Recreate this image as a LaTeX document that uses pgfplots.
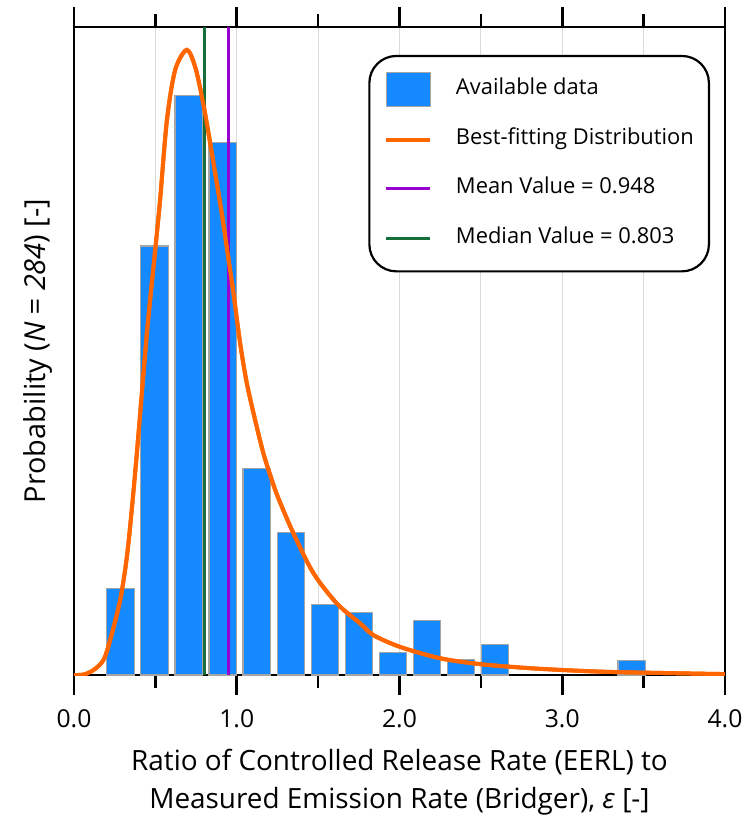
\documentclass[border=0pt]{standalone}
\usepackage{fontspec}
\setmainfont{Open Sans}
\usepackage{pgfplots}
\pgfplotsset{compat=1.18}
\definecolor{BarBlue}{RGB}{21,137,255}
\definecolor{BarEdge}{RGB}{165,165,165}
\definecolor{FitOrange}{RGB}{255,102,0}
\definecolor{MeanPurple}{RGB}{150,0,210}
\definecolor{MedGreen}{RGB}{22,110,60}
\definecolor{GridGray}{RGB}{218,218,218}

\pgfplotsset{
  barlegend/.style={legend image code/.code={\draw[##1, sharp corners] (0bp,-8.5bp) rectangle (22bp,8.5bp);}},
  linelegend/.style={legend image code/.code={\path[draw=none, fill=none] (0bp,-8.5bp) rectangle (22bp,8.5bp); \draw[##1] (0bp,0bp) -- (22bp,0bp);}},
}

% histogram (probability density per bin)
\pgfplotstableread{
x      y
0.286  0.191
0.495  0.947
0.705  1.280
0.914  1.175
1.123  0.455
1.333  0.314
1.542  0.156
1.751  0.138
1.960  0.050
2.170  0.121
2.379  0.034
2.588  0.068
3.426  0.032
}\histdata

% best-fitting distribution
\pgfplotstableread{
x      y
0.000  0.000
0.060  0.001
0.120  0.011
0.181  0.033
0.222  0.077
0.284  0.166
0.325  0.261
0.356  0.369
0.388  0.497
0.448  0.755
0.499  0.938
0.529  1.049
0.571  1.225
0.622  1.336
0.693  1.380
0.744  1.343
0.786  1.277
0.816  1.218
0.847  1.152
0.878  1.085
0.908  1.019
0.939  0.945
0.959  0.894
0.980  0.843
1.021  0.732
1.062  0.644
1.113  0.563
1.164  0.489
1.216  0.430
1.256  0.390
1.348  0.313
1.471  0.225
1.615  0.158
1.758  0.114
1.840  0.088
2.004  0.062
2.249  0.037
2.495  0.024
2.761  0.016
3.001  0.011
3.273  0.007
3.682  0.004
4.000  0.002
}\fitdata

\begin{document}
\begin{tikzpicture}
\begin{axis}[
  name=ax, scale only axis,
  width=325.5bp, height=324bp,
  xmin=0, xmax=4, ymin=0, ymax=1.4305,
  axis line style={line width=1.3bp},
  xtick={0,1,2,3,4}, xticklabels={0.0,1.0,2.0,3.0,4.0},
  minor xtick={0.5,1.5,2.5,3.5},
  ytick=\empty,
  tick align=outside,
  major tick length=10bp, minor tick length=6.5bp,
  every tick/.style={black, line width=1.3bp},
  every minor tick/.style={black, line width=1.3bp},
  grid=both,
  major grid style={draw=GridGray, line width=0.6bp},
  minor grid style={draw=GridGray, line width=0.6bp},
  tick label style={font=\fontsize{12.4}{15}\selectfont},
  xticklabel style={yshift=-4bp},
  xlabel={Ratio of Controlled Release Rate (EERL) to\\Measured Emission Rate (Bridger), \textit{ε} [-]},
  xlabel style={font=\fontsize{14}{19}\selectfont, align=center, inner sep=0pt,
    at={(axis description cs:0.5,0)}, anchor=north, yshift=-37bp},
  ylabel={Probability (\textit{N = 284}) [-]},
  ylabel style={font=\fontsize{14.5}{17}\selectfont, at={(axis description cs:-0.055,0.5)}, anchor=center, rotate=0},
  legend style={at={(0.977,0.957)}, anchor=north east, draw=black, line width=1.1bp,
    rounded corners=13.5bp, inner xsep=7.5bp, inner ysep=8bp, row sep=7.7bp, column sep=11.8bp,
    font=\fontsize{11}{13}\selectfont, nodes={inner sep=0pt, text height=8bp, text depth=3bp}},
  legend cell align=left,
]
\addplot[ybar, bar width=0.168, bar shift=0pt, fill=BarBlue, draw=BarEdge, line width=0.6bp, barlegend]
  table[x=x, y=y] {\histdata};
\addlegendentry{Available data}
\addplot[FitOrange, line width=2bp, smooth, linelegend]
  table[x=x, y=y] {\fitdata};
\addlegendentry{Best-fitting Distribution}
\addplot[MeanPurple, line width=1.5bp, linelegend]
  coordinates {(0.948,0) (0.948,1.4305)};
\addlegendentry{Mean Value = 0.948}
\addplot[MedGreen, line width=1.5bp, linelegend]
  coordinates {(0.803,0) (0.803,1.4305)};
\addlegendentry{Median Value = 0.803}
% fitted curve again so it lies above the two vertical lines
\addplot[FitOrange, line width=2bp, smooth, forget plot] table[x=x, y=y] {\fitdata};
\end{axis}
\pgfresetboundingbox
\useasboundingbox ([shift={(-37bp,-70bp)}]ax.south west) rectangle ([shift={(10bp,13.5bp)}]ax.north east);
\end{tikzpicture}
\end{document}
